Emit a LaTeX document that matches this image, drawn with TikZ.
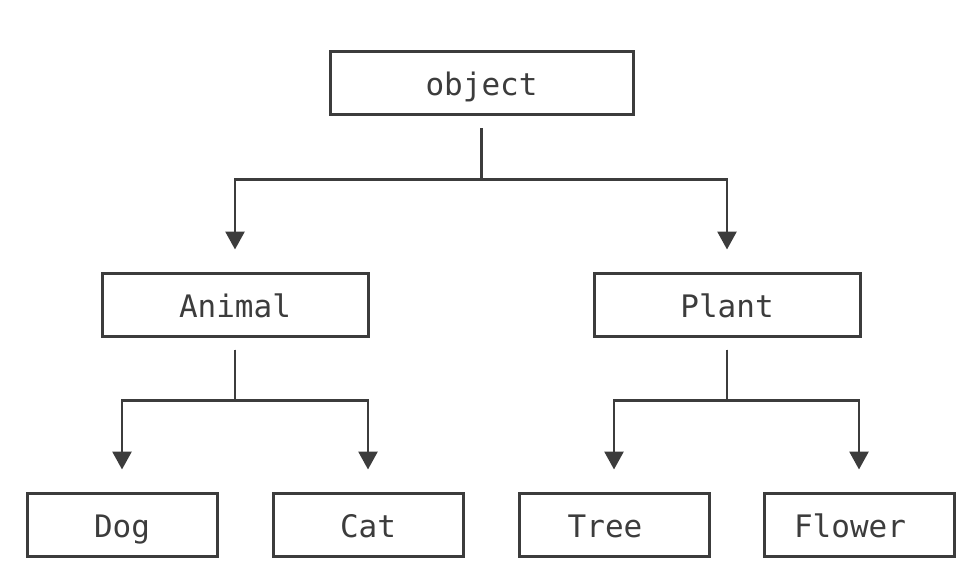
\documentclass[tikz,border=0pt]{standalone}
\usepackage{fontspec}
\setmonofont{DejaVu Sans Mono}
\usetikzlibrary{arrows.meta}
\definecolor{ink}{HTML}{3c3c3c}
\begin{document}
\begin{tikzpicture}[x=1pt,y=-1pt,
  box/.style={draw=ink, line width=3pt, text=ink, font=\ttfamily\fontsize{31}{34}\selectfont,
              minimum height=63pt, inner sep=0pt, text height=26pt, text depth=1pt},
  wide/.style={box, minimum width=303pt},
  mid/.style={box, minimum width=266pt},
  leaf/.style={box, minimum width=190pt},
  link/.style={draw=ink, line width=2.8pt, shorten <=12pt, shorten >=22pt,
               -{Triangle[width=19pt,length=18pt]}}]
  \useasboundingbox (0,0) rectangle (973,569);

  % boxes
  \node[wide] (object) at (481.5,83.5) {object};
  \node[mid]  (animal) at (235,304.5) {Animal};
  \node[mid]  (plant)  at (727,304.5) {Plant};
  \node[leaf] (dog)    at (122,524.5) {Dog};
  \node[leaf] (cat)    at (368,524.5) {Cat};
  \node[leaf] (tree)   at (614,524.5) {\hspace*{-18pt}Tree};
  \node[leaf] (flower) at (859,524.5) {\hspace*{-18pt}Flower};

  % branching connectors
  \draw[link] (object.south) -- ++(0,63) -| (animal.north);
  \draw[link] (object.south) -- ++(0,63) -| (plant.north);
  \draw[link] (animal.south) -- ++(0,63) -| (dog.north);
  \draw[link] (animal.south) -- ++(0,63) -| (cat.north);
  \draw[link] (plant.south)  -- ++(0,63) -| (tree.north);
  \draw[link] (plant.south)  -- ++(0,63) -| (flower.north);
\end{tikzpicture}
\end{document}
